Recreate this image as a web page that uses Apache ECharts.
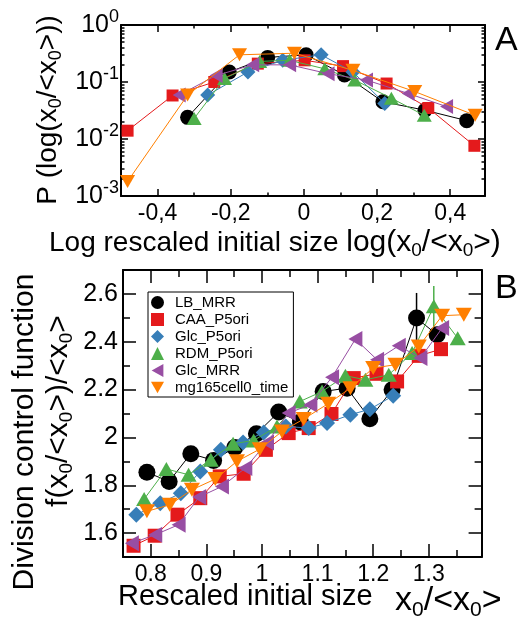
<!DOCTYPE html>
<html><head><meta charset="utf-8">
<script src="https://cdn.jsdelivr.net/npm/echarts@6/dist/echarts.min.js"></script>
<style>html,body{margin:0;padding:0;background:#fff}#c{width:528px;height:622px}</style>
</head><body><div id="c"></div>
<script>
// ---------- names & colours ----------
const seriesNames = ['LB_MRR', 'CAA_P5ori', 'Glc_P5ori', 'RDM_P5ori', 'Glc_MRR', 'mg165cell0_time'];
const colors = ['#000000', '#e41a1c', '#377eb8', '#4daf4a', '#984ea3', '#ff7f00'];

// ---------- Panel A : P(log(x0/<x0>)) ----------
const aX_LB  = [-0.318, -0.204, -0.099, 0.006, 0.111, 0.216, 0.331, 0.445];
const aY_LB  = [0.024, 0.15, 0.27, 0.30, 0.133, 0.045, 0.032, 0.021];
const aX_CAA = [-0.482, -0.359, -0.245, -0.126, 0.002, 0.107, 0.226, 0.340, 0.466];
const aY_CAA = [0.014, 0.058, 0.10, 0.21, 0.24, 0.19, 0.094, 0.035, 0.0076];
const aX_GlcP = [-0.263, -0.153, -0.058, 0.047, 0.134, 0.221];
const aY_GlcP = [0.059, 0.15, 0.24, 0.30, 0.15, 0.042];
const aX_RDM = [-0.300, -0.217, -0.121, -0.039, 0.057, 0.139, 0.239, 0.329];
const aY_RDM = [0.023, 0.115, 0.23, 0.24, 0.17, 0.108, 0.052, 0.026];
const aX_GlcM = [-0.341, -0.240, -0.140, -0.039, 0.066, 0.171, 0.285, 0.390];
const aY_GlcM = [0.059, 0.13, 0.20, 0.20, 0.14, 0.108, 0.063, 0.037];
const aX_mg  = [-0.482, -0.318, -0.176, -0.026, 0.134, 0.303, 0.468];
const aY_mg  = [0.0018, 0.059, 0.30, 0.32, 0.16, 0.068, 0.026];

// ---------- Panel B : division control function ----------
const bX_LB  = [0.793, 0.833, 0.872, 0.913, 0.951, 0.990, 1.030, 1.069, 1.110, 1.153, 1.194, 1.234, 1.278, 1.315];
const bY_LB  = [1.854, 1.816, 1.932, 1.904, 1.958, 2.015, 2.106, 2.064, 2.192, 2.206, 2.078, 2.199, 2.499, 2.429];
const bX_CAA = [0.769, 0.807, 0.848, 0.889, 0.924, 0.967, 1.007, 1.048, 1.084, 1.125, 1.165, 1.206, 1.243, 1.282, 1.322];
const bY_CAA = [1.547, 1.589, 1.677, 1.746, 1.837, 1.848, 1.948, 2.018, 2.039, 2.098, 2.248, 2.266, 2.234, 2.341, 2.369];
const bX_GlcP = [0.774, 0.817, 0.854, 0.889, 0.926, 0.966, 1.003, 1.043, 1.084, 1.117, 1.159, 1.194, 1.236];
const bY_GlcP = [1.677, 1.725, 1.767, 1.858, 1.948, 1.979, 2.021, 2.046, 2.039, 2.060, 2.095, 2.118, 2.174];
const bX_RDM = [0.788, 0.828, 0.868, 0.908, 0.948, 0.985, 1.027, 1.068, 1.108, 1.150, 1.186, 1.228, 1.270, 1.309, 1.352];
const bY_RDM = [1.742, 1.868, 1.844, 1.907, 1.974, 1.987, 2.046, 2.150, 2.192, 2.258, 2.241, 2.262, 2.353, 2.548, 2.415];
const bX_GlcM = [0.766, 0.808, 0.850, 0.887, 0.928, 0.970, 1.009, 1.048, 1.087, 1.126, 1.168, 1.207, 1.246, 1.285, 1.324];
const bY_GlcM = [1.558, 1.593, 1.635, 1.751, 1.795, 1.872, 1.979, 2.102, 2.137, 2.252, 2.411, 2.325, 2.383, 2.332, 2.457];
const bX_mg  = [0.793, 0.834, 0.874, 0.916, 0.955, 0.996, 1.036, 1.075, 1.119, 1.159, 1.200, 1.240, 1.282, 1.324, 1.363];
const bY_mg  = [1.691, 1.718, 1.781, 1.826, 1.900, 1.951, 2.025, 2.077, 2.141, 2.206, 2.290, 2.304, 2.380, 2.509, 2.513];

// error bars (panel B)
const errX = [1.278, 1.309];
const errLow = [2.395, 2.463];
const errHigh = [2.604, 2.633];
const errColorIdx = [0, 3];

// ---------- ticks ----------
const aXTicks = [-0.4, -0.2, 0, 0.2, 0.4];
const aXMinor = [-0.3, -0.1, 0.1, 0.3];
const bXTicks = [0.8, 0.9, 1, 1.1, 1.2, 1.3];
const bXMinor = [0.75, 0.85, 0.95, 1.05, 1.15, 1.25, 1.35];
const bYTicks = [1.6, 1.8, 2, 2.2, 2.4, 2.6];
const bYMinor = [1.5, 1.7, 1.9, 2.1, 2.3, 2.5, 2.7];

const aXs = [aX_LB, aX_CAA, aX_GlcP, aX_RDM, aX_GlcM, aX_mg];
const aYs = [aY_LB, aY_CAA, aY_GlcP, aY_RDM, aY_GlcM, aY_mg];
const bXs = [bX_LB, bX_CAA, bX_GlcP, bX_RDM, bX_GlcM, bX_mg];
const bYs = [bY_LB, bY_CAA, bY_GlcP, bY_RDM, bY_GlcM, bY_mg];

const F = '"Liberation Sans", Arial, sans-serif';
const downTri = 'path://M0,0L10,0L5,9Z';
const leftTri = 'path://M9,0L9,10L0,5Z';
const symbols = ['circle', 'rect', 'diamond', 'triangle', leftTri, downTri];
const symA = [15, 12, 15, [15, 13], [13, 15], [15, 13]];
const symB = [17, 14, 16, [16, 14], [14, 16], [16, 14]];

// minor log ticks (in log10 space)
const logMinor = [];
for (let n = -3; n < 0; n++) for (let k = 2; k <= 9; k++) logMinor.push(n + Math.log10(k));

const lineBlk = { color: '#000', width: 2 };
const tickBlk = { color: '#000', width: 1.5 };

function valAxis(o) {
  return Object.assign({
    type: 'value',
    axisLine: { show: true, onZero: false, lineStyle: lineBlk },
    splitLine: { show: false },
    axisLabel: { show: false },
  }, o);
}
function minorAxis(o) {
  return Object.assign({
    type: 'value',
    axisLine: { show: false, onZero: false },
    splitLine: { show: false },
    axisLabel: { show: false },
  }, o);
}

const xAxes = [
  // panel A
  valAxis({ gridIndex: 0, position: 'bottom', min: -0.5, max: 0.495,
    axisTick: { inside: true, length: 7, lineStyle: tickBlk, customValues: aXTicks },
    axisLabel: { show: true, customValues: aXTicks, margin: 6, color: '#000', fontSize: 23, fontFamily: F,
      formatter: v => (v === 0 ? '0' : v.toFixed(1).replace('.', ',')) } }),
  minorAxis({ gridIndex: 0, position: 'bottom', min: -0.5, max: 0.495,
    axisTick: { inside: true, length: 3.5, lineStyle: tickBlk, customValues: aXMinor } }),
  valAxis({ gridIndex: 0, position: 'top', min: -0.5, max: 0.495,
    axisTick: { inside: true, length: 7, lineStyle: tickBlk, customValues: aXTicks } }),
  minorAxis({ gridIndex: 0, position: 'top', min: -0.5, max: 0.495,
    axisTick: { inside: true, length: 3.5, lineStyle: tickBlk, customValues: aXMinor } }),
  // panel B
  valAxis({ gridIndex: 1, position: 'bottom', min: 0.75, max: 1.395,
    axisTick: { inside: true, length: 13, lineStyle: tickBlk, customValues: bXTicks },
    axisLabel: { show: true, customValues: bXTicks, margin: 6, color: '#000', fontSize: 23, fontFamily: F } }),
  minorAxis({ gridIndex: 1, position: 'bottom', min: 0.75, max: 1.395,
    axisTick: { inside: true, length: 7, lineStyle: tickBlk, customValues: bXMinor } }),
  valAxis({ gridIndex: 1, position: 'top', min: 0.75, max: 1.395,
    axisTick: { inside: true, length: 13, lineStyle: tickBlk, customValues: bXTicks } }),
  minorAxis({ gridIndex: 1, position: 'top', min: 0.75, max: 1.395,
    axisTick: { inside: true, length: 7, lineStyle: tickBlk, customValues: bXMinor } }),
];

const supRich = {
  b: { fontSize: 25, fontFamily: F, color: '#000' },
  s: { fontSize: 18, fontFamily: F, color: '#000', padding: [0, 0, 16, 0] }
};

const yAxes = [
  // panel A
  { type: 'log', logBase: 10, gridIndex: 0, position: 'left', min: 0.001, max: 1,
    axisLine: { show: true, onZero: false, lineStyle: lineBlk },
    axisTick: { inside: true, length: 7, lineStyle: tickBlk },
    splitLine: { show: false }, minorTick: { show: false },
    axisLabel: { show: true, margin: 2, rich: supRich,
      formatter: v => '{b|10}{s|' + Math.round(Math.log10(v)) + '}' } },
  minorAxis({ gridIndex: 0, position: 'left', min: -3, max: 0,
    axisTick: { inside: true, length: 3.5, lineStyle: tickBlk, customValues: logMinor } }),
  { type: 'log', logBase: 10, gridIndex: 0, position: 'right', min: 0.001, max: 1,
    axisLine: { show: true, onZero: false, lineStyle: lineBlk },
    axisTick: { inside: true, length: 7, lineStyle: tickBlk },
    splitLine: { show: false }, axisLabel: { show: false } },
  minorAxis({ gridIndex: 0, position: 'right', min: -3, max: 0,
    axisTick: { inside: true, length: 3.5, lineStyle: tickBlk, customValues: logMinor } }),
  // panel B
  valAxis({ gridIndex: 1, position: 'left', min: 1.5, max: 2.7,
    axisTick: { inside: true, length: 13, lineStyle: tickBlk, customValues: bYTicks },
    axisLabel: { show: true, customValues: bYTicks, margin: 5, color: '#000', fontSize: 25, fontFamily: F } }),
  minorAxis({ gridIndex: 1, position: 'left', min: 1.5, max: 2.7,
    axisTick: { inside: true, length: 7, lineStyle: tickBlk, customValues: bYMinor } }),
  valAxis({ gridIndex: 1, position: 'right', min: 1.5, max: 2.7,
    axisTick: { inside: true, length: 13, lineStyle: tickBlk, customValues: bYTicks } }),
  minorAxis({ gridIndex: 1, position: 'right', min: 1.5, max: 2.7,
    axisTick: { inside: true, length: 7, lineStyle: tickBlk, customValues: bYMinor } }),
];

const series = [];
// error bars first (below markers)
series.push({
  type: 'custom', xAxisIndex: 4, yAxisIndex: 4, z: 1,
  data: errX.map((x, i) => [x, errLow[i], errHigh[i], errColorIdx[i]]),
  encode: { x: 0, y: [1, 2] },
  renderItem: (params, api) => {
    const lo = api.coord([api.value(0), api.value(1)]);
    const hi = api.coord([api.value(0), api.value(2)]);
    return { type: 'line', shape: { x1: lo[0], y1: lo[1], x2: hi[0], y2: hi[1] },
      style: { stroke: colors[api.value(3)], lineWidth: 1.5 } };
  }
});
seriesNames.forEach((name, i) => {
  series.push({
    name, type: 'line', xAxisIndex: 0, yAxisIndex: 0, z: 2 + i,
    data: aXs[i].map((x, j) => [x, aYs[i][j]]),
    symbol: symbols[i], symbolSize: symA[i], showSymbol: true,
    lineStyle: { color: colors[i], width: 1 },
    itemStyle: { color: colors[i], borderWidth: 0 },
    emphasis: { disabled: true }
  });
});
seriesNames.forEach((name, i) => {
  series.push({
    name, type: 'line', xAxisIndex: 4, yAxisIndex: 4, z: 2 + i,
    data: bXs[i].map((x, j) => [x, bYs[i][j]]),
    symbol: symbols[i], symbolSize: symB[i], showSymbol: true,
    lineStyle: { color: colors[i], width: 1 },
    itemStyle: { color: colors[i], borderWidth: 0 },
    emphasis: { disabled: true }
  });
});

const subRich = (main, sub, pad) => ({
  a: { fontSize: main, fontFamily: F, fill: '#000', color: '#000' },
  s: { fontSize: sub, fontFamily: F, fill: '#000', color: '#000', padding: [pad, 0, 0, 0] }
});

const option = {
  animation: false,
  backgroundColor: '#fff',
  grid: [
    { left: 121, top: 25, width: 364, height: 171 },
    { left: 123, top: 270, width: 358.6, height: 287 }
  ],
  xAxis: xAxes,
  yAxis: yAxes,
  legend: {
    orient: 'vertical', left: 148, top: 292,
    padding: [2, 5, 1, 3], itemGap: 0, itemWidth: 13, itemHeight: 13,
    backgroundColor: '#fff', borderColor: '#000', borderWidth: 1, borderRadius: 0,
    selectedMode: false, z: 20,
    formatter: n => '{t|' + n + '}',
    textStyle: { fontFamily: F, fontSize: 15, color: '#000', lineHeight: 17,
      rich: { t: { fontFamily: F, fontSize: 15, color: '#000', lineHeight: 17, padding: [0, 0, 0, 6] } } },
    data: seriesNames.map((n, i) => ({ name: n, icon: symbols[i] }))
  },
  graphic: [
    { type: 'text', x: 49, y: 243, z: 10,
      style: { text: '{b|Log rescaled initial size }{a|log(x}{s|0}{a|/<x}{s|0}{a|>)}',
        rich: Object.assign(subRich(30, 19, 16), { b: { fontSize: 28, fontFamily: F, fill: '#000' } }),
        align: 'left', verticalAlign: 'middle', fill: '#000' } },
    { type: 'text', x: 118, y: 597, z: 10,
      style: { text: 'Rescaled initial size', font: '29px ' + F, align: 'left', verticalAlign: 'middle', fill: '#000' } },
    { type: 'text', x: 395, y: 601, z: 10,
      style: { text: '{a|x}{s|0}{a|/<x}{s|0}{a|>}', rich: subRich(34, 21, 18),
        align: 'left', verticalAlign: 'middle', fill: '#000' } },
    { type: 'text', x: 48, y: 110, rotation: Math.PI / 2, z: 10,
      style: { text: '{a|P (log(x}{s|0}{a|/<x}{s|0}{a|>))}', rich: subRich(28, 18, 16),
        align: 'center', verticalAlign: 'middle', fill: '#000' } },
    { type: 'text', x: 25, y: 432, rotation: Math.PI / 2, z: 10,
      style: { text: 'Division control function', font: '30px ' + F, align: 'center', verticalAlign: 'middle', fill: '#000' } },
    { type: 'text', x: 59, y: 411, rotation: Math.PI / 2, z: 10,
      style: { text: '{a|f(x}{s|0}{a|/<x}{s|0}{a|>)/<x}{s|0}{a|>}', rich: subRich(30, 19, 16),
        align: 'center', verticalAlign: 'middle', fill: '#000' } },
    { type: 'text', x: 495, y: 41, z: 10,
      style: { text: 'A', font: '34px ' + F, align: 'left', verticalAlign: 'middle', fill: '#000' } },
    { type: 'text', x: 495, y: 289, z: 10,
      style: { text: 'B', font: '34px ' + F, align: 'left', verticalAlign: 'middle', fill: '#000' } }
  ],
  series
};

const chart = echarts.init(document.getElementById('c'), null, { renderer: 'canvas' });
chart.setOption(option);
</script>
</body></html>
